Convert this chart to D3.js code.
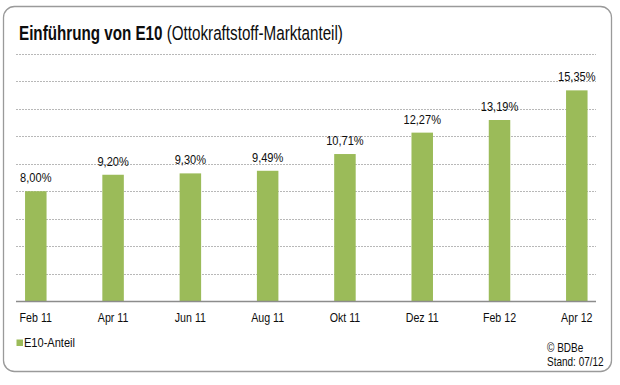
<!DOCTYPE html>
<html>
<head>
<meta charset="utf-8">
<script src="https://cdn.jsdelivr.net/npm/d3@7"></script>
<style>
  body { margin: 0; background: #fff; }
  svg text { font-family: "Liberation Sans", Arial, Helvetica, sans-serif; fill: #0d0d0d; }
</style>
</head>
<body>
<div id="chart"></div>
<script>
// Daten
const monate = ["Feb 11", "Apr 11", "Jun 11", "Aug 11", "Okt 11", "Dez 11", "Feb 12", "Apr 12"];
const anteil = [8.00, 9.20, 9.30, 9.49, 10.71, 12.27, 13.19, 15.35];
const gitterWerte = [2, 4, 6, 8, 10, 12, 14, 16, 18];

const width = 620, height = 385;
const schmal = 0.82; // Schrift im Original ist schmal (Helvetica Narrow)

const svg = d3.select("#chart").append("svg")
  .attr("width", width)
  .attr("height", height);

// Text mit horizontaler Stauchung
function txt(parent, px, py, s) {
  return parent.append("text")
    .attr("transform", "translate(" + px + "," + py + ") scale(" + (s || schmal) + ",1)");
}

// Rahmen
svg.append("rect")
  .attr("x", 3.5).attr("y", 6.5)
  .attr("width", 608).attr("height", 365)
  .attr("rx", 11).attr("ry", 11)
  .attr("fill", "#fff")
  .attr("stroke", "#9a9a9a")
  .attr("stroke-width", 1.3);

// Titel
const titel = txt(svg, 19, 40, 0.78).attr("font-size", 19.5);
titel.append("tspan").attr("font-weight", "bold").text("Einführung von E10");
titel.append("tspan").text(" (Ottokraftstoff-Marktanteil)");

const plotLeft = 16, plotRight = 596, baseY = 301;

const y = d3.scaleLinear()
  .domain([0, 18])
  .range([baseY, 54]);

const x = d3.scalePoint()
  .domain(monate)
  .range([35.8, 576.8]);

const barW = 21.5;

// Gitterlinien
svg.append("g")
  .selectAll("line")
  .data(gitterWerte).enter()
  .append("line")
  .attr("x1", plotLeft).attr("x2", plotRight)
  .attr("y1", d => Math.round(y(d)) + 0.5)
  .attr("y2", d => Math.round(y(d)) + 0.5)
  .attr("stroke", "#b8b8b8")
  .attr("stroke-width", 1)
  .attr("stroke-dasharray", "2,1");

// Balken
svg.append("g")
  .selectAll("rect")
  .data(anteil).enter()
  .append("rect")
  .attr("x", (d, i) => x(monate[i]) - barW / 2)
  .attr("y", d => y(d))
  .attr("width", barW)
  .attr("height", d => baseY - y(d))
  .attr("fill", "#9bbb59");

// Wertebeschriftung
const werteG = svg.append("g");
anteil.forEach((d, i) => {
  txt(werteG, x(monate[i]), y(d) - 9)
    .attr("text-anchor", "middle")
    .attr("font-size", 13.5)
    .text(d.toFixed(2).replace(".", ",") + "%");
});

// x-Achse
svg.append("line")
  .attr("x1", plotLeft).attr("x2", plotRight)
  .attr("y1", baseY + 0.5).attr("y2", baseY + 0.5)
  .attr("stroke", "#8c8c8c")
  .attr("stroke-width", 1.5);

const achseG = svg.append("g");
monate.forEach(m => {
  txt(achseG, x(m), 322)
    .attr("text-anchor", "middle")
    .attr("font-size", 13)
    .text(m);
});

// Legende
svg.append("rect")
  .attr("x", 16.5).attr("y", 339.5)
  .attr("width", 6.5).attr("height", 6.5)
  .attr("fill", "#9bbb59");
txt(svg, 24, 347).attr("font-size", 13.5).text("E10-Anteil");

// Quelle
txt(svg, 547, 352).attr("font-size", 12.2).text("© BDBe");
txt(svg, 547, 366).attr("font-size", 12.2).text("Stand: 07/12");
</script>
</body>
</html>
